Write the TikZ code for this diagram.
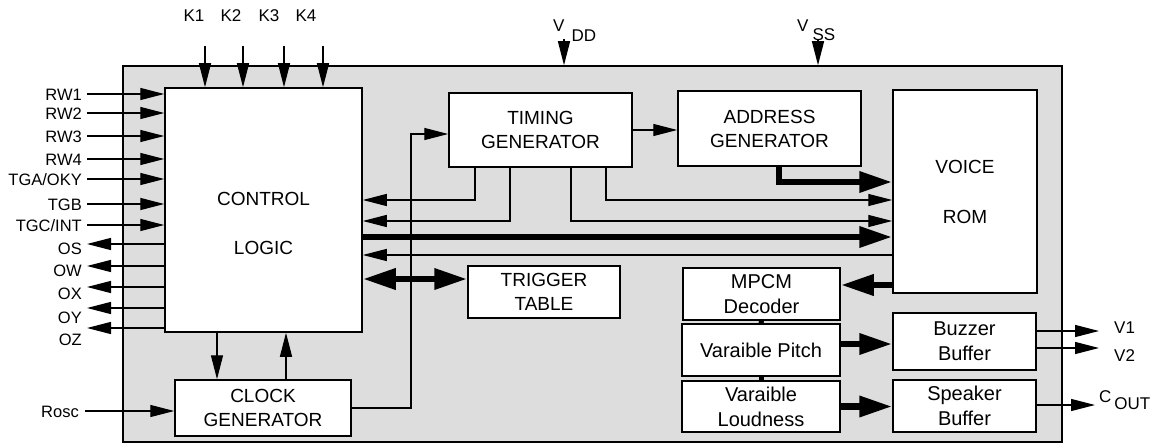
\documentclass[tikz,border=0pt]{standalone}
\usepackage{fontspec}
\setmainfont{Liberation Sans}
\usetikzlibrary{arrows.meta}
\definecolor{chipgray}{HTML}{DDDDDD}

\begin{document}
\begin{tikzpicture}[x=1pt,y=-1pt,line join=miter,>={Triangle[length=24pt,width=12pt]},
    blk/.style={draw,line width=1.5pt,fill=white,inner sep=0pt,align=center,font=\fontsize{19}{24}\selectfont},
    low/.style={blk,font=\fontsize{20}{25}\selectfont},
    wire/.style={line width=1.3pt},
    fat/.style={line width=6.5pt,>={Triangle[length=33pt,width=20pt]}},
    pinlbl/.style={inner sep=0pt,text height=12pt,text depth=0pt,font=\fontsize{16.5}{18}\selectfont}]
    \useasboundingbox (0,0) rectangle (1160,444);
    % chip outline
    \node[draw,line width=1.5pt,fill=chipgray,inner sep=0pt,minimum width=939pt,minimum height=376pt] (chip) at (592.5,254) {};
    % blocks
    \node[blk,minimum width=197pt,minimum height=244pt] (ctl) at (263.5,210) {};
    \node[blk,draw=none,fill=none] (ctltxt) at ([yshift=-13.5pt]ctl.center) {CONTROL\\[25pt]LOGIC};
    \node[blk,minimum width=183pt,minimum height=74pt] (tim) at (540.5,130) {TIMING\\GENERATOR};
    \node[blk,minimum width=183pt,minimum height=75pt] (addr) at (769.5,128.5) {ADDRESS\\GENERATOR};
    \node[blk,minimum width=144pt,minimum height=203pt] (rom) at (965,191.5) {VOICE\\[26pt]ROM};
    \node[blk,minimum width=152pt,minimum height=52pt] (trig) at (544,292) {TRIGGER\\TABLE};
    \node[blk,minimum width=176pt,minimum height=56pt] (clk) at (263,408) {CLOCK\\GENERATOR};
    \node[low,minimum width=157pt,minimum height=52pt] (mpcm) at (761.5,294) {MPCM\\Decoder};
    \node[low,minimum width=158pt,minimum height=52pt] (pitch) at (761,350) {Varaible Pitch};
    \node[low,minimum width=158pt,minimum height=51pt] (loud) at (761,406.5) {Varaible\\Loudness};
    \node[low,minimum width=143pt,minimum height=57pt] (buz) at (964.5,341.5) {Buzzer\\Buffer};
    \node[low,minimum width=143pt,minimum height=52pt] (spk) at (964.5,406) {Speaker\\Buffer};
    % key inputs
    \node[pinlbl,font=\fontsize{17}{18}\selectfont] (k1l) at (194,16) {K1};
    \node[pinlbl,font=\fontsize{17}{18}\selectfont] (k2l) at (231,16) {K2};
    \node[pinlbl,font=\fontsize{17}{18}\selectfont] (k3l) at (269,16) {K3};
    \node[pinlbl,font=\fontsize{17}{18}\selectfont] (k4l) at (306,16) {K4};
    \coordinate (k1) at (205,46);
    \coordinate (k2) at (243,46);
    \coordinate (k3) at (284,46);
    \coordinate (k4) at (323,46);
    \draw[wire,->] (k1) -- (k1 |- ctl.north);
    \draw[wire,->] (k2) -- (k2 |- ctl.north);
    \draw[wire,->] (k3) -- (k3 |- ctl.north);
    \draw[wire,->] (k4) -- (k4 |- ctl.north);
    % supply
    \node[pinlbl,anchor=base west,text height=,font=\fontsize{17}{18}\selectfont] (vddl) at (553,32) {V\hspace{7pt}\raisebox{-10pt}{DD}};
    \node[pinlbl,anchor=base west,text height=,font=\fontsize{17}{18}\selectfont] (vssl) at (797,32) {V\hspace{4pt}\raisebox{-9pt}{SS}};
    \coordinate (vdd) at (564,39);
    \coordinate (vss) at (818,39);
    \draw[wire,->] (vdd) -- (vdd |- chip.north);
    \draw[wire,->] (vss) -- (vss |- chip.north);
    % row / trigger inputs
    \node[pinlbl,anchor=east] (rw1) at (82,94) {RW1};
    \node[pinlbl,anchor=east] (rw2) at (82,113) {RW2};
    \node[pinlbl,anchor=east] (rw3) at (82,136) {RW3};
    \node[pinlbl,anchor=east] (rw4) at (82,159) {RW4};
    \node[pinlbl,anchor=east] (tga) at (82,179) {TGA/OKY};
    \node[pinlbl,anchor=east] (tgb) at (82,204) {TGB};
    \node[pinlbl,anchor=east] (tgc) at (82,225) {TGC/INT};
    \draw[wire,->] ([xshift=5pt]rw1.east) -- (rw1 -| ctl.west);
    \draw[wire,->] ([xshift=5pt]rw2.east) -- (rw2 -| ctl.west);
    \draw[wire,->] ([xshift=5pt]rw3.east) -- (rw3 -| ctl.west);
    \draw[wire,->] ([xshift=5pt]rw4.east) -- (rw4 -| ctl.west);
    \draw[wire,->] ([xshift=5pt]tga.east) -- (tga -| ctl.west);
    \draw[wire,->] ([xshift=5pt]tgb.east) -- (tgb -| ctl.west);
    \draw[wire,->] ([xshift=5pt]tgc.east) -- (tgc -| ctl.west);
    % outputs
    \node[pinlbl,anchor=east] (osl) at (82,248) {OS};
    \node[pinlbl,anchor=east] (owl) at (82,270) {OW};
    \node[pinlbl,anchor=east] (oxl) at (82,293) {OX};
    \node[pinlbl,anchor=east] (oyl) at (82,317) {OY};
    \node[pinlbl,anchor=east] (ozl) at (82,339) {OZ};
    \coordinate (os) at (87,244);
    \coordinate (ow) at (87,266);
    \coordinate (ox) at (87,287);
    \coordinate (oy) at (87,308);
    \coordinate (oz) at (87,328);
    \draw[wire,->] (os -| ctl.west) -- (os);
    \draw[wire,->] (ow -| ctl.west) -- (ow);
    \draw[wire,->] (ox -| ctl.west) -- (ox);
    \draw[wire,->] (oy -| ctl.west) -- (oy);
    \draw[wire,->] (oz -| ctl.west) -- (oz);
    % oscillator
    \node[pinlbl,anchor=east] (rosc) at (79,411) {Rosc};
    \draw[wire,->] ([xshift=6pt]rosc.east) -- (rosc -| clk.west);
    \draw[wire,->] (ctl.south -| 217,0) -- (clk.north -| 217,0);
    \draw[wire,->] (clk.north -| 286,0) -- (ctl.south -| 286,0);
    \draw[wire,->] (clk.east) -| (411,134) -- (tim.west |- 0,134);
    % timing generator
    \draw[wire,->] (tim.east) -- (tim.east -| addr.west);
    \draw[wire,->] (tim.south -| 475,0) |- (ctl.east |- 0,200);
    \draw[wire,->] (tim.south -| 510,0) |- (ctl.east |- 0,221);
    \draw[wire,->] (tim.south -| 571,0) |- (rom.west |- 0,221);
    \draw[wire,->] (tim.south -| 606,0) |- (rom.west |- 0,200);
    % buses
    \draw[fat,->] (addr.south -| 779,0) |- (rom.west |- 0,182);
    \draw[fat,->] (ctl.east |- 0,237) -- (rom.west |- 0,237);
    \draw[wire,->] (rom.west |- 0,255) -- (ctl.east |- 0,255);
    \draw[fat,<->] (ctl.east |- 0,279) -- (trig.west |- 0,279);
    \draw[fat,->] (rom.west |- 0,285) -- (mpcm.east |- 0,285);
    \draw[line width=5pt] (mpcm.south) -- (pitch.north);
    \draw[line width=5pt] (pitch.south) -- (loud.north);
    \draw[fat,->] (pitch.east |- 0,344) -- (buz.west |- 0,344);
    \draw[fat,->] (loud.east) -- (loud.east -| buz.west);
    % audio outputs
    \coordinate (v1) at (1099,331);
    \coordinate (v2) at (1099,348);
    \coordinate (cout) at (1095,405);
    \draw[wire,->] (buz.east |- v1) -- (v1);
    \draw[wire,->] (buz.east |- v2) -- (v2);
    \draw[wire,->] (spk.east |- cout) -- (cout);
    \node[pinlbl,anchor=west,font=\fontsize{17}{18}\selectfont] (v1l) at (1114,327) {V1};
    \node[pinlbl,anchor=west,font=\fontsize{17}{18}\selectfont] (v2l) at (1114,355) {V2};
    \node[pinlbl,anchor=base west,text height=,font=\fontsize{17}{18}\selectfont] (coutl) at (1099,402) {C\hspace{3pt}\raisebox{-7pt}{OUT}};
\end{tikzpicture}
\end{document}
